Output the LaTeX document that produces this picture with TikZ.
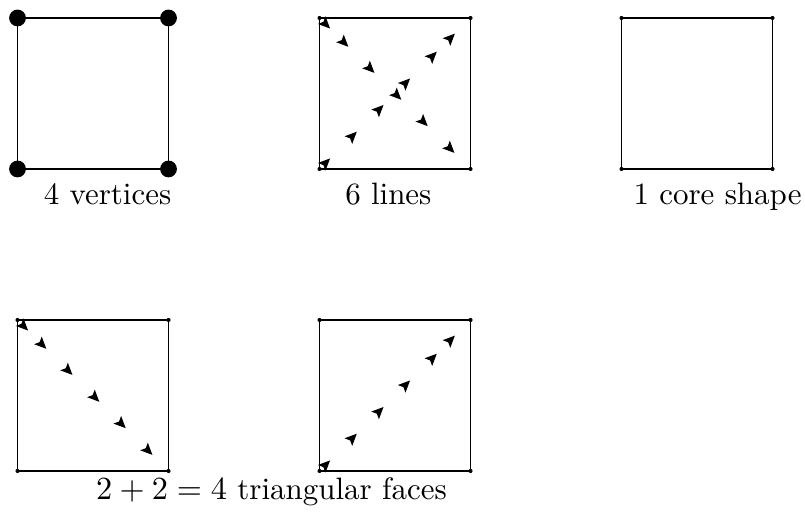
\documentclass[tikz,border=0pt]{standalone}
\usetikzlibrary{arrows.meta, decorations.markings}

\tikzset{tri/.tip={Stealth[length=4pt, width=3.6pt, inset=0.8pt]}}

\begin{document}
\begin{tikzpicture}[x=1.8cm, y=1.8cm,
    every node/.style={font=\fontsize{10.5}{12.6}\selectfont},
    square/.style={draw, minimum size=1.8cm, inner sep=0pt, outer sep=0pt},
    caption/.style={anchor=base, inner sep=0pt},
    bigdot/.style={fill, radius=0.1cm},
    smalldot/.style={fill, radius=0.7pt},
    diagdown/.style={decorate, decoration={markings,
        mark=at position 0.07 with {\arrow{tri}},
        mark=at position 0.191 with {\arrow{tri}},
        mark=at position 0.364 with {\arrow{tri}},
        mark=at position 0.542 with {\arrow{tri}},
        mark=at position 0.717 with {\arrow{tri}},
        mark=at position 0.894 with {\arrow{tri}}}},
    diagup/.style={decorate, decoration={markings,
        mark=at position 0.07 with {\arrow{tri}},
        mark=at position 0.247 with {\arrow{tri}},
        mark=at position 0.424 with {\arrow{tri}},
        mark=at position 0.6 with {\arrow{tri}},
        mark=at position 0.777 with {\arrow{tri}},
        mark=at position 0.897 with {\arrow{tri}}}}
]
\useasboundingbox (-0.116,-0.285) rectangle (5.215,3.119);
% top row
\node[square] (vertsq) at (0.5,2.5) {};
\node[square] (linesq) at (2.5,2.5) {};
\node[square] (coresq) at (4.5,2.5) {};
% bottom row
\node[square] (facesqa) at (0.5,0.5) {};
\node[square] (facesqb) at (2.5,0.5) {};
\fill[bigdot] (vertsq.north west) circle;
\fill[bigdot] (vertsq.north east) circle;
\fill[bigdot] (vertsq.south west) circle;
\fill[bigdot] (vertsq.south east) circle;
\fill[smalldot] (linesq.north west) circle (0.7pt) (linesq.north east) circle (0.7pt) (linesq.south west) circle (0.7pt) (linesq.south east) circle (0.7pt);
\fill[smalldot] (coresq.north west) circle (0.7pt) (coresq.north east) circle (0.7pt) (coresq.south west) circle (0.7pt) (coresq.south east) circle (0.7pt);
\fill[smalldot] (facesqa.north west) circle (0.7pt) (facesqa.north east) circle (0.7pt) (facesqa.south west) circle (0.7pt) (facesqa.south east) circle (0.7pt);
\fill[smalldot] (facesqb.north west) circle (0.7pt) (facesqb.north east) circle (0.7pt) (facesqb.south west) circle (0.7pt) (facesqb.south east) circle (0.7pt);
\path[diagdown] (linesq.north west) -- (linesq.south east);
\path[diagup] (linesq.south west) -- (linesq.north east);
\path[diagdown] (facesqa.north west) -- (facesqa.south east);
\path[diagup] (facesqb.south west) -- (facesqb.north east);
\node[caption] (vertlbl) at (0.596,1.762) {4 vertices};
\node[caption] (linelbl) at (2.456,1.762) {6 lines};
\node[caption] (corelbl) at (4.636,1.762) {1 core shape};
\node[caption] (facelbl) at (1.682,-0.192) {\(2+2=4\) triangular faces};
\end{tikzpicture}
\end{document}
